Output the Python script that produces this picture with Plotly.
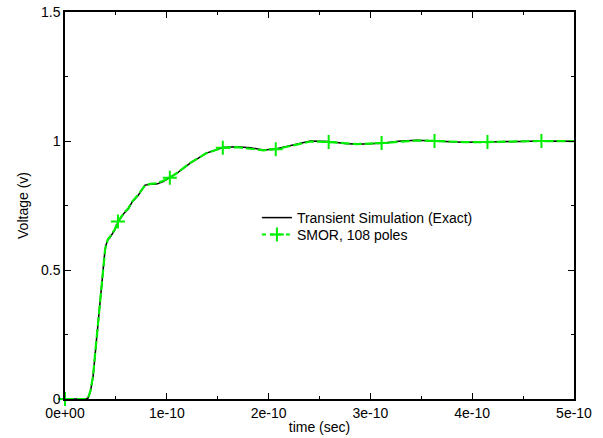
import plotly.graph_objects as go

# time in units of 1e-10 s
time_exact = [0, 0.2, 0.226, 0.25, 0.275, 0.30, 0.314, 0.33, 0.354, 0.37, 0.383, 0.393, 0.403,
              0.42, 0.44, 0.49, 0.52, 0.58, 0.62, 0.66, 0.72, 0.786, 0.84, 0.90, 0.96, 1.03, 1.10,
              1.23, 1.39, 1.55, 1.69, 1.82, 1.95, 2.07, 2.2, 2.41, 2.59, 2.75, 2.87, 3.11, 3.3,
              3.46, 3.63, 3.91, 4.15, 4.4, 4.68, 5.0]
v_exact = [0, 0, 0.003, 0.03, 0.085, 0.19, 0.267, 0.34, 0.434, 0.50, 0.55, 0.578, 0.597,
           0.616, 0.625, 0.655, 0.686, 0.72, 0.735, 0.764, 0.79, 0.829, 0.832, 0.833, 0.842,
           0.857, 0.875, 0.914, 0.953, 0.975, 0.978, 0.974, 0.965, 0.969, 0.98, 1.0, 0.998,
           0.99, 0.987, 0.991, 1.0, 1.003, 1.0, 0.995, 0.996, 0.999, 1.0, 0.999]

time_smor = [0, 0.2, 0.226, 0.25, 0.275, 0.30, 0.314, 0.33, 0.354, 0.37, 0.383, 0.393, 0.403,
             0.42, 0.44, 0.49, 0.52, 0.58, 0.62, 0.66, 0.72, 0.786, 0.84, 0.90, 0.96, 1.03, 1.10,
             1.23, 1.39, 1.55, 1.69, 1.82, 1.95, 2.07, 2.2, 2.41, 2.59, 2.75, 2.87, 3.11, 3.3,
             3.46, 3.63, 3.91, 4.15, 4.4, 4.68, 5.0]
v_smor = [0, 0, 0.004, 0.032, 0.088, 0.19, 0.265, 0.34, 0.432, 0.50, 0.548, 0.576, 0.596,
          0.618, 0.628, 0.658, 0.688, 0.722, 0.738, 0.765, 0.792, 0.828, 0.834, 0.836, 0.845,
          0.858, 0.876, 0.915, 0.953, 0.974, 0.976, 0.970, 0.964, 0.968, 0.979, 0.998, 0.996,
          0.99, 0.988, 0.992, 0.999, 1.002, 1.0, 0.996, 0.996, 0.999, 1.0, 0.999]

marker_t = [0, 0.52, 1.03, 1.55, 2.07, 2.59, 3.11, 3.63, 4.15, 4.68]

x_tickvals = [0, 1, 2, 3, 4, 5]
x_ticktext = ["0e+00", "1e-10", "2e-10", "3e-10", "4e-10", "5e-10"]
y_tickvals = [0, 0.5, 1, 1.5]
y_ticktext = ["0", "0.5", "1", "1.5"]

scale = 1e-10
green = "#00ee00"

marker_v = [v_smor[time_smor.index(t)] for t in marker_t]

fig = go.Figure()
fig.add_trace(go.Scatter(
    x=[t * scale for t in time_exact], y=v_exact, mode="lines",
    name="Transient Simulation (Exact)", legend="legend", showlegend=True,
    line=dict(color="black", width=1.5)))
fig.add_trace(go.Scatter(
    x=[t * scale for t in time_smor], y=v_smor, mode="lines",
    name="SMOR, 108 poles", showlegend=False, legendgroup="smor", legend="legend2",
    line=dict(color=green, width=2.2, dash="9px,3px")))
fig.add_trace(go.Scatter(
    x=[t * scale for t in marker_t], y=marker_v, mode="markers",
    name="SMOR, 108 poles", showlegend=False, legendgroup="smor", legend="legend2",
    marker=dict(symbol="cross-thin", size=10, color=green,
                line=dict(color=green, width=2)),
    cliponaxis=False))
# legend-only entry for SMOR (line + markers)
fig.add_trace(go.Scatter(
    x=[None], y=[None], mode="lines+markers",
    name="SMOR, 108 poles", legendgroup="smor", legend="legend2", showlegend=True,
    line=dict(color=green, width=2, dash="4px,4px"),
    marker=dict(symbol="cross-thin", size=10, color=green,
                line=dict(color=green, width=2))))

font = dict(family="Liberation Sans, Arial, sans-serif", size=14, color="black")
axis_common = dict(showline=True, linecolor="black", linewidth=1.5, mirror="ticks",
                   ticks="inside", ticklen=6, tickwidth=1, tickcolor="black",
                   showgrid=False, zeroline=False, tickfont=font, automargin=False)

fig.update_xaxes(range=[0, 5 * scale], tickvals=[v * scale for v in x_tickvals],
                 ticktext=x_ticktext,
                 minor=dict(tickvals=[v * scale for v in [0.5, 1.5, 2.5, 3.5, 4.5]],
                            ticks="inside", ticklen=3, tickcolor="black"),
                 title=dict(text="time (sec)", font=font, standoff=3), **axis_common)
fig.update_yaxes(range=[0, 1.5], tickvals=y_tickvals, ticktext=y_ticktext,
                 minor=dict(tickvals=[0.25, 0.75, 1.25], ticks="inside", ticklen=3,
                            tickcolor="black"),
                 title=dict(text="Voltage (v)", font=font, standoff=9), **axis_common)

legend_common = dict(xanchor="left", yanchor="middle", bgcolor="rgba(0,0,0,0)",
                     font=font, itemwidth=30, visible=True)
fig.update_layout(
    width=603, height=438,
    margin=dict(l=65, r=29, t=12, b=39),
    plot_bgcolor="white", paper_bgcolor="white",
    font=font,
    showlegend=True,
    legend=dict(x=0.377, y=0.4677, **legend_common),
    legend2=dict(x=0.377, y=0.4238, **legend_common),
)

fig.write_html("out.html")
